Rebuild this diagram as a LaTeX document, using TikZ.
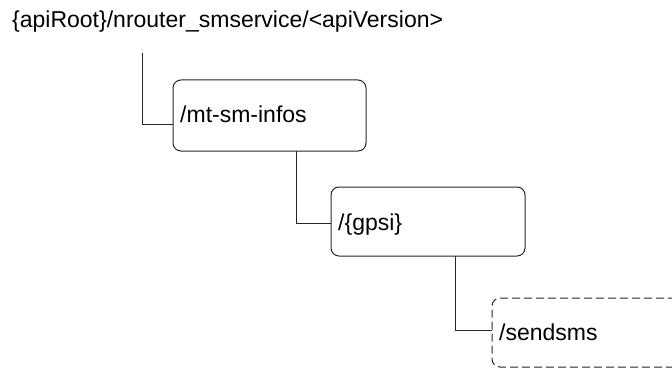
\documentclass[tikz,border=0pt]{standalone}
\usepackage{fontspec}
\setmainfont{Liberation Sans}
\begin{document}
\begin{tikzpicture}[x=1pt,y=-1pt,
  res/.style={draw=black!85, line width=1pt, rounded corners=8pt, inner sep=0pt},
  optres/.style={res, dash pattern=on 8pt off 4pt},
  lbl/.style={anchor=base west, inner sep=0pt, font=\fontsize{23}{27}\selectfont},
  conn/.style={draw=black!85, line width=1pt}]
\useasboundingbox (0,0) rectangle (672,369);
\clip (0,0) rectangle (672,369);
\node[lbl] (root) at (12,28) {\{apiRoot\}/nrouter\_smservice/<apiVersion>};
% boxes (corners given directly)
\node[res, minimum width=193pt, minimum height=71pt] (b1) at (269.5,115.5) {};
\node[res, minimum width=194pt, minimum height=69pt] (b2) at (428,221.5) {};
\node[optres, minimum width=240pt, minimum height=69pt] (b3) at (612,332.5) {};
\node[lbl] (t1) at (180,122) {/mt-sm-infos};
\node[lbl] (t2) at (338,230) {/\{gpsi\}};
\node[lbl] (t3) at (499,340) {/sendsms};
\coordinate (s0) at (142,53);
\coordinate (s1) at (296,151);
\coordinate (s2) at (455,256);
\draw[conn] (s0) |- (b1.west |- 0,124);
\draw[conn] (s1) |- (b2.west |- 0,223);
\draw[conn] (s2) |- (b3.west |- 0,330);
\end{tikzpicture}
\end{document}
